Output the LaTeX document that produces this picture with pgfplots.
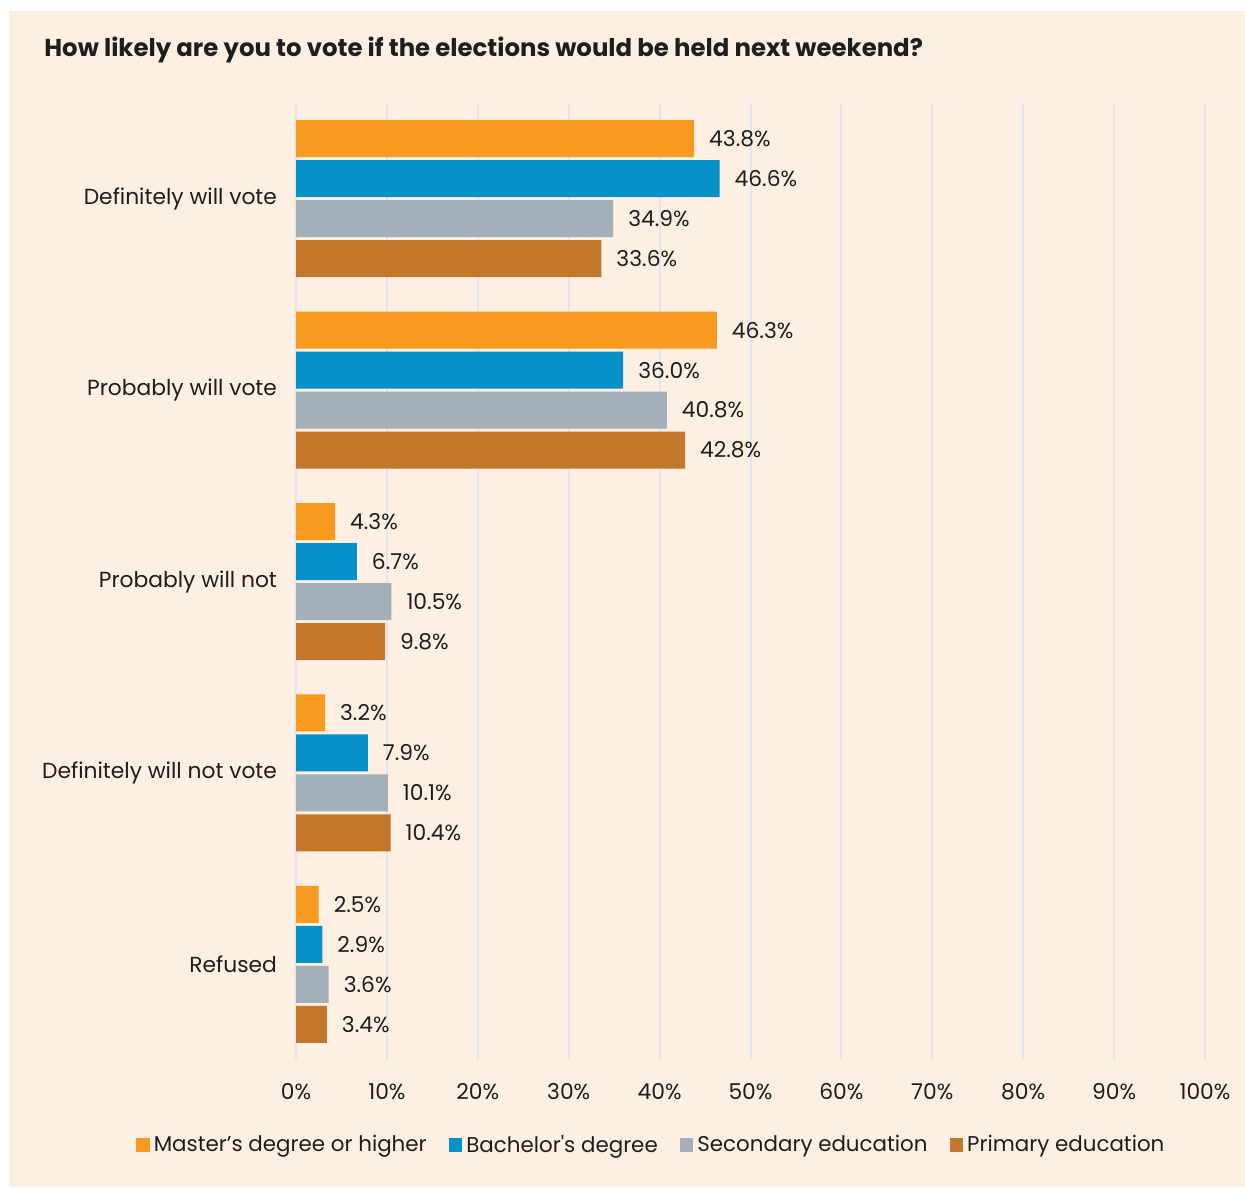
\documentclass[border=0pt]{standalone}
\usepackage{pgfplots}
\pgfplotsset{compat=1.18}
\usepackage{fontspec}
\setmainfont{Poppins}
\newfontfamily\plainpop[Ligatures=ResetAll]{Poppins}
\definecolor{bg}{HTML}{FDEFE1}
\definecolor{cmaster}{HTML}{F99A20}
\definecolor{cbach}{HTML}{0791C8}
\definecolor{csec}{HTML}{A3AFB9}
\definecolor{cprim}{HTML}{C2772A}
\definecolor{gridc}{HTML}{E2E5EC}
\definecolor{txt}{HTML}{1E1E1E}
\begin{document}
\begin{tikzpicture}
\fill[white] (0,0) rectangle (622.5pt,-593.5pt);
\fill[bg] (4.5pt,-5.5pt) rectangle (622.5pt,-593.5pt);
\node[anchor=west,text=txt,inner sep=0pt,font=\bfseries\fontsize{12.2}{14}\selectfont] at (22pt,-25pt) {How likely are you to vote if the elections would be held next weekend?};
\begin{axis}[
  at={(148pt,-530pt)}, anchor=south west,
  scale only axis, width=454.5pt, height=478.5pt,
  xmin=0, xmax=100, ymin=-0.5, ymax=4.5,
  y dir=reverse,
  xbar, bar width=18.5pt,
  clip=false,
  axis line style={draw=none},
  major tick length=0pt,
  xmajorgrids, grid style={gridc, line width=1pt},
  xtick={0,10,...,100},
  xticklabel={\pgfmathprintnumber{\tick}\%},
  xticklabel shift=8pt,
  ytick={0,1,2,3,4},
  yticklabels={Definitely will vote,Probably will vote,Probably will not,Definitely will not vote,Refused},
  yticklabel shift=6pt,
  /pgf/number format/assume math mode=true,
  tick label style={text=txt, font=\fontsize{10.9}{12}\selectfont},
  point meta=x,
  nodes near coords={\pgfmathprintnumber[fixed,fixed zerofill,precision=1]{\pgfplotspointmeta}\%},
  nodes near coords style={anchor=west, xshift=4pt, text=txt, font=\fontsize{10.9}{12}\selectfont, /pgf/number format/assume math mode=true},
  legend style={at={(0.392,-0.0888)}, anchor=center, draw=none, fill=none, legend columns=4,
    font=\fontsize{10.7}{12}\selectfont, text=txt,
    /tikz/every even column/.append style={column sep=9pt}},
  legend image code/.code={\fill[#1,draw=none] (0pt,-3.4pt) rectangle (6.8pt,3.4pt);},
]
\addplot[fill=cmaster, draw=none, bar shift=30pt] coordinates {(43.8,0) (46.3,1) (4.3,2) (3.2,3) (2.5,4)};
\addplot[fill=cbach, draw=none, bar shift=10pt] coordinates {(46.6,0) (36.0,1) (6.7,2) (7.9,3) (2.9,4)};
\addplot[fill=csec, draw=none, bar shift=-10pt] coordinates {(34.9,0) (40.8,1) (10.5,2) (10.1,3) (3.6,4)};
\addplot[fill=cprim, draw=none, bar shift=-30pt] coordinates {(33.6,0) (42.8,1) (9.8,2) (10.4,3) (3.4,4)};
\legend{Master’s degree or higher, {Bachelor{\plainpop'}s degree}, Secondary education, Primary education}
\end{axis}
\pgfresetboundingbox
\path (0,0) rectangle (622.5pt,-593.5pt);
\end{tikzpicture}
\end{document}
